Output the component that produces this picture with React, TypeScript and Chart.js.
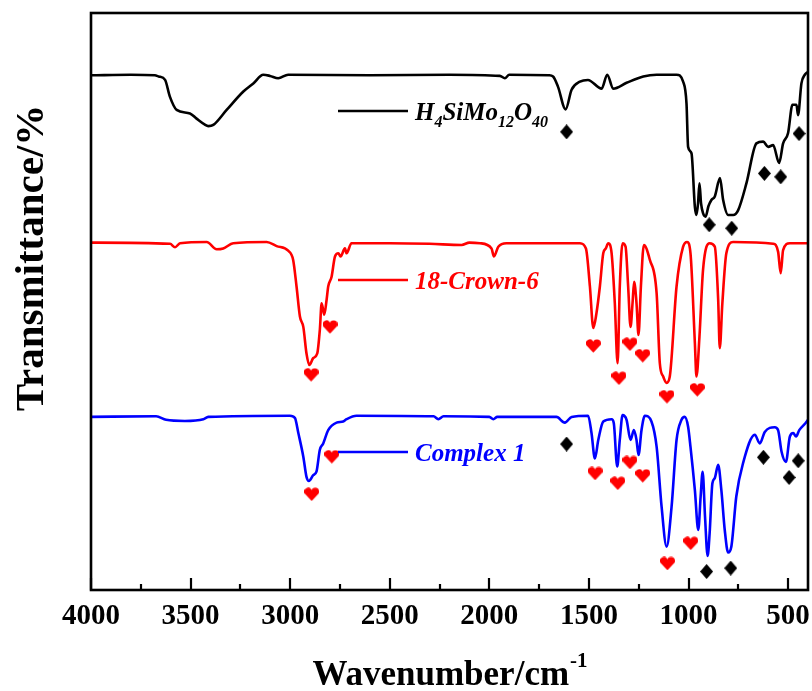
import React, { useEffect, useRef } from 'react';
import { Chart, registerables } from 'chart.js';

Chart.register(...registerables);

// ---------- axis ----------
const xMin = 400;
const xMax = 4000;
const xTickValues = [4000, 3500, 3000, 2500, 2000, 1500, 1000, 500];
const xMinorTickValues = [3750, 3250, 2750, 2250, 1750, 1250, 750];
const xTitle = 'Wavenumber/cm';
const xTitleSup = '-1';
const yTitle = 'Transmittance/%';

// ---------- series names ----------
const seriesNames = ['H4SiMo12O40', '18-Crown-6', 'Complex 1'];
const seriesColors = ['#000000', '#ff0000', '#0000ff'];

// ---------- H4SiMo12O40 (offset transmittance) ----------
const polyWn = [4000, 3800, 3680, 3660, 3628, 3604, 3570, 3503, 3470, 3430, 3411, 3386, 3319, 3235, 3185, 3135, 3101, 3060, 3010, 2600, 2200, 1947, 1922, 1900, 1700, 1680, 1655, 1617, 1587, 1545, 1505, 1436, 1408, 1378, 1311, 1227, 1160, 1060, 1027, 1010, 1002, 985, 968, 960, 952, 945, 937, 927, 914, 900, 885, 868, 842, 826, 801, 776, 751, 709, 659, 625, 600, 575, 545, 525, 500, 478, 458, 450, 433, 416, 400];
const polyT = [89.2, 89.3, 89.2, 89.0, 88.4, 85.5, 83.2, 82.6, 81.7, 80.7, 80.4, 80.6, 83.2, 86.4, 87.8, 89.3, 89.1, 88.7, 89.3, 89.2, 89.3, 89.1, 88.7, 89.3, 89.2, 89.0, 87.2, 83.3, 86.7, 88.1, 88.4, 86.9, 89.3, 86.9, 87.9, 89.0, 89.3, 89.3, 88.1, 84.3, 76.8, 75.7, 66.4, 65.0, 67.0, 70.5, 67.0, 65.3, 64.7, 66.5, 67.6, 68.2, 71.4, 67.6, 65.0, 65.0, 65.8, 70.5, 77.4, 77.7, 76.8, 77.1, 74.0, 77.4, 79.2, 84.1, 84.1, 82.3, 87.8, 89.3, 89.8];

// ---------- 18-Crown-6 ----------
const crownWn = [4000, 3603, 3578, 3553, 3419, 3369, 3336, 3286, 3118, 3068, 3010, 2985, 2968, 2951, 2934, 2918, 2904, 2884, 2864, 2851, 2842, 2829, 2817, 2809, 2792, 2775, 2758, 2747, 2725, 2717, 2692, 2500, 2300, 2139, 2100, 2047, 1989, 1977, 1955, 1914, 1545, 1515, 1495, 1478, 1462, 1445, 1428, 1415, 1403, 1386, 1370, 1356, 1345, 1331, 1316, 1303, 1291, 1281, 1273, 1261, 1251, 1239, 1224, 1194, 1160, 1144, 1127, 1110, 1094, 1060, 1027, 1007, 990, 968, 960, 945, 927, 894, 868, 851, 843, 830, 810, 776, 575, 550, 537, 525, 491, 400];
const crownT = [60.2, 60.0, 59.4, 60.1, 60.3, 59.05, 59.2, 60.1, 60.3, 59.6, 58.8, 57.2, 52.6, 47.4, 45.6, 41.0, 39.0, 40.2, 41.0, 45.1, 49.7, 47.7, 50.3, 52.6, 54.3, 57.8, 58.35, 57.8, 59.2, 58.35, 60.1, 60.1, 60.0, 59.8, 60.2, 60.1, 59.2, 57.8, 59.5, 60.1, 60.1, 59.2, 52.6, 45.4, 48.0, 52.6, 58.35, 59.2, 60.1, 58.35, 49.7, 39.3, 52.6, 60.1, 59.5, 52.6, 45.6, 49.7, 53.4, 49.7, 44.2, 52.6, 59.8, 57.2, 51.4, 39.3, 37.0, 35.9, 37.0, 52.6, 59.5, 60.3, 58.35, 42.8, 37.0, 43.9, 55.5, 60.1, 59.5, 50.3, 41.9, 49.7, 58.35, 60.3, 60.0, 58.6, 54.9, 58.9, 60.1, 60.1];

// ---------- Complex 1 ----------
const complexWn = [4000, 3673, 3623, 3529, 3436, 3411, 3001, 2976, 2959, 2934, 2918, 2906, 2884, 2868, 2851, 2834, 2809, 2767, 2734, 2717, 2667, 2280, 2256, 2230, 2000, 1980, 1960, 1663, 1621, 1587, 1504, 1487, 1470, 1453, 1428, 1386, 1375, 1358, 1345, 1331, 1311, 1291, 1274, 1261, 1251, 1236, 1219, 1186, 1160, 1135, 1110, 1085, 1060, 1035, 1019, 1002, 990, 968, 951, 939, 929, 917, 904, 894, 880, 868, 851, 835, 818, 801, 785, 760, 726, 667, 642, 617, 567, 550, 533, 511, 491, 474, 460, 444, 413, 400];
const complexT = [30.0, 30.1, 29.5, 29.3, 29.6, 30.0, 30.2, 29.8, 27.2, 23.1, 19.6, 18.9, 19.9, 20.5, 24.3, 25.4, 27.7, 29.0, 29.2, 29.6, 30.2, 30.1, 29.6, 30.1, 30.0, 29.6, 30.0, 30.0, 29.0, 30.0, 30.2, 27.2, 22.8, 26.0, 29.2, 29.6, 28.9, 21.4, 26.0, 30.3, 29.5, 26.0, 27.7, 26.0, 23.4, 27.7, 30.2, 29.2, 24.8, 14.4, 7.5, 14.4, 26.0, 29.5, 30.0, 28.3, 24.8, 17.3, 10.4, 16.2, 20.5, 12.7, 5.9, 9.8, 18.5, 19.4, 21.7, 17.3, 10.4, 6.5, 7.5, 16.2, 22.0, 26.9, 25.4, 27.4, 28.2, 27.7, 24.0, 22.2, 26.6, 27.2, 26.6, 27.7, 28.9, 29.5];

// ---------- band markers ----------
const diamondWn = [1612, 896, 783, 619, 537, 445, 1612, 909, 788, 624, 495, 449];
const diamondT = [79.4, 63.3, 62.7, 72.2, 71.6, 79.1, 25.3, 3.2, 3.8, 23.0, 19.5, 22.4];
const heartWn = [2895, 2800, 1478, 1349, 1294, 1230, 1108, 956, 2892, 2791, 1469, 1355, 1294, 1230, 1106, 989];
const heartT = [37.3, 45.6, 42.3, 36.7, 42.6, 40.6, 33.5, 34.7, 16.6, 23.1, 20.2, 18.5, 22.1, 19.8, 4.6, 8.1];

const SERIF = "'Liberation Serif', 'Times New Roman', serif";

function makeHeart(color: string, w: number, h: number) {
  const c = document.createElement('canvas');
  c.width = w;
  c.height = h;
  const g = c.getContext('2d')!;
  g.fillStyle = color;
  const r = w * 0.26;
  g.beginPath();
  g.arc(w / 2 - r + 0.3, r + 0.5, r, Math.PI * 0.85, Math.PI * 2);
  g.arc(w / 2 + r - 0.3, r + 0.5, r, Math.PI, Math.PI * 2.15);
  g.lineTo(w / 2, h - 0.3);
  g.closePath();
  g.fill();
  return c;
}

function makeDiamond(color: string, w: number, h: number) {
  const c = document.createElement('canvas');
  c.width = w;
  c.height = h;
  const g = c.getContext('2d')!;
  g.fillStyle = color;
  g.beginPath();
  g.moveTo(w / 2, 0);
  g.lineTo(w, h / 2);
  g.lineTo(w / 2, h);
  g.lineTo(0, h / 2);
  g.closePath();
  g.fill();
  return c;
}

function pts(xs: number[], ys: number[]) {
  return xs.map((x, i) => ({ x, y: ys[i] }));
}

// draw a name where digits that follow a letter are subscripts
function drawFormula(ctx: CanvasRenderingContext2D, text: string, x: number, y: number, size: number) {
  const parts: { t: string; sub: boolean }[] = [];
  for (let i = 0; i < text.length; i++) {
    const ch = text[i];
    const isDigit = ch >= '0' && ch <= '9';
    let sub = false;
    if (isDigit) {
      let j = i - 1;
      while (j >= 0 && text[j] >= '0' && text[j] <= '9') j--;
      sub = j >= 0 && /[A-Za-z]/.test(text[j]);
    }
    const last = parts[parts.length - 1];
    if (last && last.sub === sub) last.t += ch;
    else parts.push({ t: ch, sub });
  }
  let cx = x;
  ctx.textBaseline = 'alphabetic';
  ctx.textAlign = 'left';
  for (const p of parts) {
    if (p.sub) {
      ctx.font = `italic bold ${Math.round(size * 0.62)}px ${SERIF}`;
      ctx.fillText(p.t, cx, y + size * 0.28);
    } else {
      ctx.font = `italic bold ${size}px ${SERIF}`;
      ctx.fillText(p.t, cx, y);
    }
    cx += ctx.measureText(p.t).width;
  }
}

const labelLineY = [111, 280, 452];

const decorPlugin = {
  id: 'decor',
  afterDraw(chart: any) {
    const { ctx, chartArea: a, scales } = chart;
    const xs = scales.x;
    ctx.save();
    ctx.strokeStyle = '#000';
    // tick marks (inward)
    ctx.lineWidth = 2.2;
    ctx.beginPath();
    for (const v of xTickValues) {
      const p = Math.round(xs.getPixelForValue(v));
      ctx.moveTo(p, a.bottom);
      ctx.lineTo(p, a.bottom - 12);
    }
    for (const v of xMinorTickValues) {
      const p = Math.round(xs.getPixelForValue(v));
      ctx.moveTo(p, a.bottom);
      ctx.lineTo(p, a.bottom - 6);
    }
    ctx.stroke();
    // frame
    ctx.lineWidth = 2.6;
    ctx.strokeRect(a.left, a.top, a.right - a.left, a.bottom - a.top);

    // series labels
    for (let i = 0; i < seriesNames.length; i++) {
      const y = labelLineY[i];
      ctx.strokeStyle = seriesColors[i];
      ctx.fillStyle = seriesColors[i];
      ctx.lineWidth = 2.5;
      ctx.beginPath();
      ctx.moveTo(338, y);
      ctx.lineTo(408, y);
      ctx.stroke();
      drawFormula(ctx, seriesNames[i], 415, y + 9, 25);
    }

    // x title
    ctx.fillStyle = '#000';
    ctx.font = `bold 35px ${SERIF}`;
    ctx.textBaseline = 'alphabetic';
    ctx.textAlign = 'left';
    const w1 = ctx.measureText(xTitle).width;
    ctx.font = `bold 21px ${SERIF}`;
    const w2 = ctx.measureText(xTitleSup).width;
    const cx = (a.left + a.right) / 2;
    const sx = cx - (w1 + w2) / 2;
    ctx.font = `bold 35px ${SERIF}`;
    ctx.fillText(xTitle, sx, 685);
    ctx.font = `bold 21px ${SERIF}`;
    ctx.fillText(xTitleSup, sx + w1 + 1, 667);

    // y title
    ctx.save();
    ctx.translate(32, 258);
    ctx.rotate(-Math.PI / 2);
    ctx.font = `bold 41px ${SERIF}`;
    ctx.textAlign = 'center';
    ctx.textBaseline = 'middle';
    ctx.fillText(yTitle, 0, 0);
    ctx.restore();

    ctx.restore();
  },
};

export default function App() {
  const ref = useRef<HTMLCanvasElement>(null);
  useEffect(() => {
    document.body.style.margin = '0';
    const heart = makeHeart('#ff0000', 15, 14);
    const diamond = makeDiamond('#000000', 13, 15);
    const lineDs = (label: string, xs: number[], ys: number[], color: string) => ({
      type: 'line' as const,
      label,
      data: pts(xs, ys),
      borderColor: color,
      backgroundColor: color,
      borderWidth: 2.6,
      pointRadius: 0,
      cubicInterpolationMode: 'monotone' as const,
      fill: false,
    });
    const chart = new Chart(ref.current!, {
      type: 'line',
      data: {
        datasets: [
          lineDs(seriesNames[0], polyWn, polyT, seriesColors[0]),
          lineDs(seriesNames[1], crownWn, crownT, seriesColors[1]),
          lineDs(seriesNames[2], complexWn, complexT, seriesColors[2]),
          {
            type: 'scatter' as const,
            label: 'diamond',
            data: pts(diamondWn, diamondT),
            showLine: false,
            pointStyle: diamond as any,
            pointRadius: 7,
            clip: false as any,
          },
          {
            type: 'scatter' as const,
            label: 'heart',
            data: pts(heartWn, heartT),
            showLine: false,
            pointStyle: heart as any,
            pointRadius: 7,
            clip: false as any,
          },
        ] as any,
      },
      options: {
        animation: false,
        responsive: false,
        devicePixelRatio: 1,
        events: [],
        layout: { autoPadding: false, padding: { top: 13, right: 4, left: 0, bottom: 0 } },
        plugins: { legend: { display: false }, tooltip: { enabled: false } },
        scales: {
          x: {
            type: 'linear',
            reverse: true,
            min: xMin,
            max: xMax,
            grid: { display: false, drawTicks: false },
            border: { display: false },
            ticks: {
              color: '#000',
              font: { family: SERIF, size: 29, weight: 'bold' },
              padding: 9,
              maxRotation: 0,
              autoSkip: false,
              callback: (v: any) => String(v),
            },
            afterBuildTicks: (s: any) => {
              s.ticks = xTickValues.map((v) => ({ value: v }));
            },
            afterFit: (s: any) => {
              s.height = 101;
              s.paddingLeft = 0;
              s.paddingRight = 0;
            },
          },
          y: {
            type: 'linear',
            min: 0,
            max: 100,
            grid: { display: false, drawTicks: false },
            border: { display: false },
            ticks: { display: false },
            afterFit: (s: any) => {
              s.width = 91;
              s.paddingTop = 0;
              s.paddingBottom = 0;
            },
          },
        },
      } as any,
      plugins: [decorPlugin],
    });
    return () => chart.destroy();
  }, []);
  return (
    <div style={{ position: 'absolute', left: 0, top: 0, width: 812, height: 691, background: '#fff' }}>
      <canvas ref={ref} width={812} height={691} style={{ display: 'block', width: 812, height: 691 }} />
    </div>
  );
}
